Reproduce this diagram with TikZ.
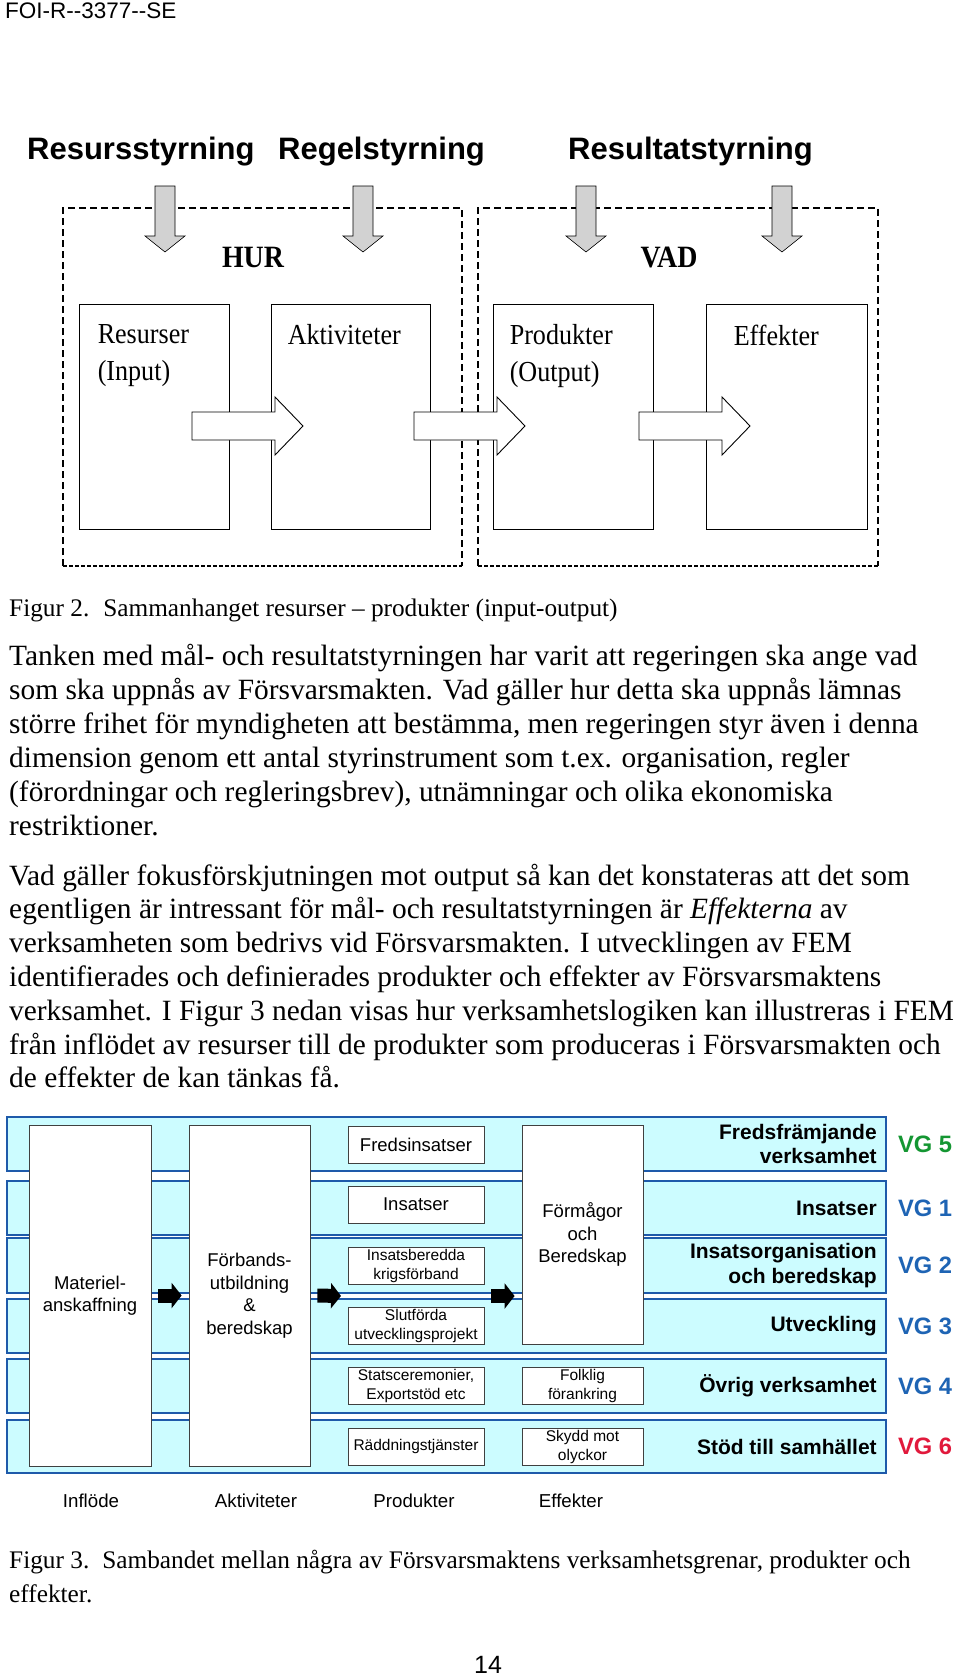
\documentclass[tikz,border=0pt]{standalone}
\usepackage{fontspec}
\setmainfont{Liberation Serif}
\setsansfont{Liberation Sans}
\newfontfamily\figserif{Liberation Serif}[FakeStretch=0.9]
\usetikzlibrary{arrows.meta, positioning, calc}
\definecolor{bandBlue}{RGB}{30, 90, 170}
\definecolor{bandFill}{RGB}{204, 252, 255}
\definecolor{vgGreen}{RGB}{20, 150, 50}
\definecolor{vgBlue}{RGB}{30, 100, 180}
\definecolor{vgRed}{RGB}{225, 25, 60}
\newcommand{\pxfont}[2]{\fontsize{#1}{#2}\selectfont}

\begin{document}
\begin{tikzpicture}[x=1pt, y=-1pt, inner sep=0pt,
    bodyline/.style={anchor=base west, font=\pxfont{29.4}{34}},
    capline/.style={anchor=base west, font=\pxfont{25.3}{30}},
    styrtitle/.style={anchor=base west, font=\sffamily\bfseries\pxfont{31}{36}},
    hurvad/.style={anchor=base, font=\figserif\bfseries\pxfont{31}{36}},
    fig2box/.style={draw, line width=0.9pt, minimum height=225pt},
    fig2text/.style={anchor=north west, align=left, font=\figserif\pxfont{29}{37}},
    band/.style={draw=bandBlue, line width=1.8pt, fill=bandFill, minimum width=879pt},
    wbox/.style={draw=black!75, line width=0.8pt, fill=white, align=center,
                 font=\sffamily\pxfont{18.5}{22.5}},
    pbox/.style={wbox, minimum width=136pt, minimum height=37pt},
    ebox/.style={wbox, minimum width=121pt, minimum height=37pt},
    smalltext/.style={font=\sffamily\pxfont{15.5}{19}},
    effrow/.style={align=right, font=\sffamily\bfseries\pxfont{21}{24.5}},
    vglabel/.style={font=\sffamily\bfseries\pxfont{23.7}{28}},
    collabel/.style={font=\sffamily\pxfont{18.7}{22}},
    pil/.style={line width=14pt, -{Triangle[length=10pt, width=25pt]},
                shorten <=7pt, shorten >=7pt}]

  % ── Sida ──
  \fill[white] (0,0) rectangle (960,1675);
  \useasboundingbox (0,0) rectangle (960,1675);
  \node[anchor=base west, font=\sffamily\pxfont{22.5}{27}] (hdr) at (5,19)
    {FOI-R-{}-3377-{}-SE};

  % ── Figur 2: styrformer ──
  \node[styrtitle] (resurs) at (27,159) {Resursstyrning};
  \node[styrtitle] (regel)  at (278,159) {Regelstyrning};
  \node[styrtitle] (result) at (568,159) {Resultatstyrning};

  % ── Streckade ramar HUR / VAD ──
  \foreach \xl/\xr in {63/462, 478/878} {
    \draw[line width=1.3pt, dash pattern=on 7pt off 4pt]
      (\xl,566) -- (\xl,208) -- (\xr,208) -- (\xr,566);
    \draw[line width=2pt, dash pattern=on 4pt off 2pt] (\xl,566) -- (\xr,566);
  }

  % ── Gråa pilar uppifrån ──
  \foreach \xa in {165,363,586,782} {
    \draw[fill=gray!35, line width=0.6pt]
      (\xa-10,186) -- (\xa+10,186) -- (\xa+10,236) -- (\xa+20,236) --
      (\xa,252) -- (\xa-20,236) -- (\xa-10,236) -- cycle;
  }
  \node[hurvad] (hur) at (253,267) {HUR};
  \node[hurvad] (vad) at (669,267) {VAD};

  % ── Rutor ──
  \node[fig2box, minimum width=150pt] (res)  at (154,416.5) {};
  \node[fig2box, minimum width=159pt] (akt)  at (350.5,416.5) {};
  \node[fig2box, minimum width=160pt] (prod) at (573,416.5) {};
  \node[fig2box, minimum width=161pt] (eff)  at (786.5,416.5) {};
  \node[fig2text] (resT)  at ([shift={(19,21)}]res.north west)  {Resurser\\(Input)};
  \node[fig2text] (aktT)  at ([shift={(17,21)}]akt.north west)  {Aktiviteter};
  \node[fig2text] (prodT) at ([shift={(17,21)}]prod.north west) {Produkter\\(Output)};
  \node[fig2text] (effT)  at ([shift={(28,21)}]eff.north west)  {Effekter};

  % ── Vita blockpilar ──
  \foreach \xs in {192,414,639} {
    \draw[fill=white, line width=0.9pt]
      (\xs,412) -- (\xs+83,412) -- (\xs+83,397) -- (\xs+111,426) --
      (\xs+83,455) -- (\xs+83,440) -- (\xs,440) -- cycle;
  }

  \node[capline] (cap2) at (9,616)
    {Figur 2.\hspace{14pt}Sammanhanget resurser – produkter (input-output)};

  % ── Brödtext ──
  \foreach \txt [count=\i] in {
      {Tanken med mål- och resultatstyrningen har varit att regeringen ska ange vad},
      {som ska uppnås av Försvarsmakten. Vad gäller hur detta ska uppnås lämnas},
      {större frihet för myndigheten att bestämma, men regeringen styr även i denna},
      {dimension genom ett antal styrinstrument som t.ex. organisation, regler},
      {(förordningar och regleringsbrev), utnämningar och olika ekonomiska},
      {restriktioner.}} {
    \node[bodyline] (pa\i) at (9,{665+34*(\i-1)}) {\txt};
  }
  \foreach \txt [count=\i] in {
      {Vad gäller fokusförskjutningen mot output så kan det konstateras att det som},
      {egentligen är intressant för mål- och resultatstyrningen är \emph{Effekterna} av},
      {verksamheten som bedrivs vid Försvarsmakten. I utvecklingen av FEM},
      {identifierades och definierades produkter och effekter av Försvarsmaktens},
      {verksamhet. I Figur 3 nedan visas hur verksamhetslogiken kan illustreras i FEM},
      {från inflödet av resurser till de produkter som produceras i Försvarsmakten och},
      {de effekter de kan tänkas få.}} {
    \node[bodyline] (pb\i) at (9,{885+33.8*(\i-1)}) {\txt};
  }

  % ── Figur 3: band per verksamhetsgren ──
  \foreach \yt/\yb [count=\k] in {1117/1171, 1181/1235, 1238/1293,
                                  1299/1353, 1359/1413, 1420/1473} {
    \node[band, minimum height={\yb-\yt}] (band\k) at (446.5,{(\yt+\yb)/2}) {};
  }

  % ── Stora rutor ──
  \node[wbox, minimum width=122pt, minimum height=341pt] (mat)  at (90,1295.5)
    {Materiel-\\anskaffning};
  \node[wbox, minimum width=121pt, minimum height=341pt] (forb) at (249.5,1295.5)
    {Förbands-\\utbildning\\\&\\beredskap};
  \node[wbox, minimum width=121pt, minimum height=219pt] (formag) at (582.5,1234.5)
    {Förmågor\\och\\Beredskap};

  % ── Produkter ──
  \node[pbox] (fredsins) at (416,1145)   {Fredsinsatser};
  \node[pbox] (insats)   at (416,1204.5) {Insatser};
  \node[pbox, smalltext] (krigsf)  at (416,1265.5) {Insatsberedda\\krigsförband};
  \node[pbox, smalltext] (slutf)   at (416,1325.5) {Slutförda\\utvecklingsprojekt};
  \node[pbox, smalltext] (statsc)  at (416,1386)   {Statsceremonier,\\Exportstöd etc};
  \node[pbox, smalltext] (raddn)   at (416,1446.5) {Räddningstjänster};

  % ── Effekter ──
  \node[ebox, smalltext] (folklig) at (582.5,1386)   {Folklig\\förankring};
  \node[ebox, smalltext] (skydd)   at (582.5,1446.5) {Skydd mot\\olyckor};

  % ── Svarta pilar ──
  \coordinate (prodin)  at (348,1296);
  \coordinate (prodout) at (484,1296);
  \draw[pil] (mat.east) -- (forb.west);
  \draw[pil] (forb.east) -- (prodin);
  \draw[pil] (prodout) -- (formag.west |- prodout);

  % ── Verksamhetsgrenar (höger) ──
  \node[effrow, left=10pt of band1.east] (gren5) {Fredsfrämjande\\verksamhet};
  \node[effrow, left=10pt of band2.east] (gren1) {Insatser};
  \node[effrow, left=10pt of band3.east] (gren2) {Insatsorganisation\\och beredskap};
  \node[effrow, left=10pt of band4.east] (gren3) {Utveckling};
  \node[effrow, left=10pt of band5.east] (gren4) {Övrig verksamhet};
  \node[effrow, left=10pt of band6.east] (gren6) {Stöd till samhället};

  \node[vglabel, text=vgGreen, right=11pt of band1.east] (vg5) {VG 5};
  \node[vglabel, text=vgBlue,  right=11pt of band2.east] (vg1) {VG 1};
  \node[vglabel, text=vgBlue,  right=11pt of band3.east] (vg2) {VG 2};
  \node[vglabel, text=vgBlue,  right=11pt of band4.east] (vg3) {VG 3};
  \node[vglabel, text=vgBlue,  right=11pt of band5.east] (vg4) {VG 4};
  \node[vglabel, text=vgRed,   right=11pt of band6.east] (vg6) {VG 6};

  % ── Kolumnrubriker ──
  \node[collabel] (inflode) at (91,1501)  {Inflöde};
  \node[collabel] (aktlab)  at (256,1501) {Aktiviteter};
  \node[collabel] (prodlab) at (414,1501) {Produkter};
  \node[collabel] (efflab)  at (571,1501) {Effekter};

  \node[capline] (cap3a) at (9,1568)
    {Figur 3.\hspace{13pt}Sambandet mellan några av Försvarsmaktens verksamhetsgrenar, produkter och};
  \node[capline] (cap3b) at (9,1602) {effekter.};

  \node[anchor=base, font=\sffamily\pxfont{25}{30}] (pnum) at (488,1673) {14};
\end{tikzpicture}
\end{document}
